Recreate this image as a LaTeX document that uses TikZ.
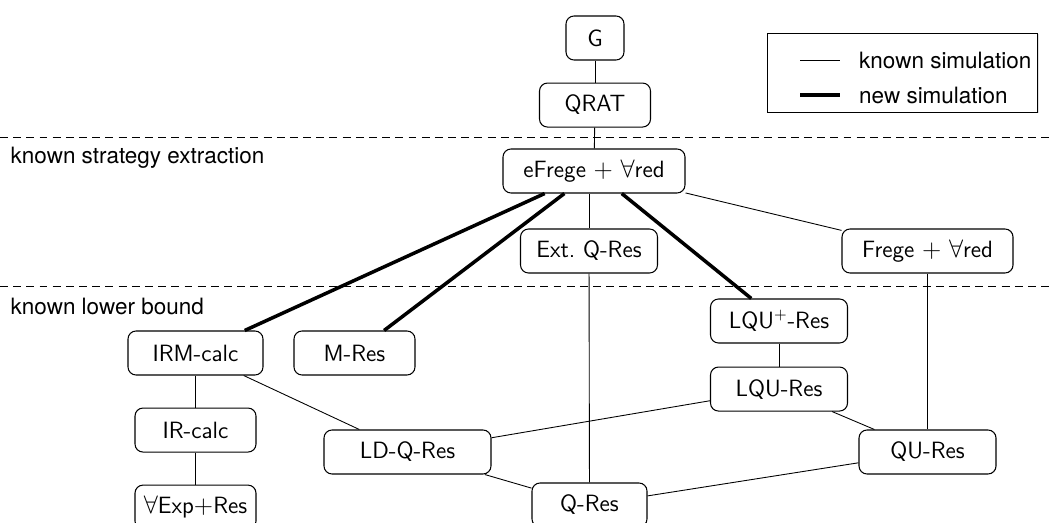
\documentclass[tikz,border=0pt]{standalone}
\usepackage{amsmath}
\usepackage{fontspec}
\newfontfamily\helv{TeX Gyre Heros}
\usetikzlibrary{positioning,calc,shadows}

\begin{document}
\begin{tikzpicture}[
		sys/.style={rectangle, draw, rounded corners=0.16cm, line width=0.6pt, minimum height=0.88cm, inner xsep=3pt, font=\fontsize{13.4}{15}\sffamily},
		knownsim/.style={line width=0.5pt},
		newsim/.style={line width=2pt},
		bound/.style={dash pattern=on 4.5pt off 3pt, line width=0.5pt},
		side/.style={font=\fontsize{12.8}{15}\helv, anchor=west}
	]
		\useasboundingbox (0,0) rectangle (21.08,-10.46);
		% levels
		\draw[bound] (0,-2.74) coordinate (b1) -- (21.08,-2.74) coordinate (b2);
		\draw[bound] (0,-5.72) coordinate (b3) -- (21.08,-5.72) coordinate (b4);
		\node[side] (strat) at (0.09,-3.16) {known strategy extraction};
		\node[side] (lower) at (0.09,-6.12) {known lower bound};
		% systems
		\node at (11.9,-0.76) [sys, minimum width=1.16cm] (g) {G};
		\node[sys, minimum width=2.22cm, below=0.44cm of g] (qrat) {QRAT};
		\node at (11.88,-3.42) [sys, minimum width=3.64cm] (efrege) {eFrege $+$ $\forall$red};
		\node at (11.78,-5.02) [sys, minimum width=2.74cm] (ext) {Ext.\ Q-Res};
		\node at (18.55,-5.02) [sys, minimum width=3.42cm] (frege) {Frege $+$ $\forall$red};
		\node at (15.58,-6.42) [sys, minimum width=2.74cm] (lqup) {LQU$^+$-Res};
		\node[sys, minimum width=2.74cm, below=0.46cm of lqup] (lqu) {LQU-Res};
		\node at (18.55,-9.04) [sys, minimum width=2.74cm] (qu) {QU-Res};
		\node at (11.79,-10.1) [sys, minimum width=2.3cm] (qres) {Q-Res};
		\node at (3.91,-7.06) [sys, minimum width=2.7cm] (irm) {IRM-calc};
		\node at (7.09,-7.06) [sys, minimum width=2.42cm] (mres) {M-Res};
		\node[sys, minimum width=2.42cm, below=0.64cm of irm] (ir) {IR-calc};
		\node[sys, minimum width=2.42cm, below=0.64cm of ir] (exp) {$\forall$Exp$+$Res};
		\node at (8.15,-9.04) [sys, minimum width=3.34cm] (ldq) {LD-Q-Res};
		% known simulations
		\draw[knownsim] (g) -- (qrat);
		\draw[knownsim] (qrat) -- (efrege);
		\draw[knownsim] (ext) -- (ext |- efrege.south);
		\draw[knownsim] (ext) -- (qres);
		\draw[knownsim] (efrege) -- (frege);
		\draw[knownsim] (frege) -- (qu);
		\draw[knownsim] (lqup) -- (lqu);
		\draw[knownsim] (lqu) -- (qu);
		\draw[knownsim] (lqu) -- (ldq);
		\draw[knownsim] (irm) -- (ldq);
		\draw[knownsim] (ldq) -- (qres);
		\draw[knownsim] (qres) -- (qu);
		\draw[knownsim] (irm) -- (ir);
		\draw[knownsim] (ir) -- (exp);
		% new simulations
		\draw[newsim] (efrege) -- (irm);
		\draw[newsim] (efrege) -- (mres);
		\draw[newsim] (efrege) -- (lqup);
		% legend
		\node at (15.34,-0.66) [draw, fill=white, line width=0.5pt, anchor=north west, minimum width=5.4cm, minimum height=1.58cm, drop shadow={opacity=0.25, shadow xshift=0.6pt, shadow yshift=-0.6pt}] (legend) {};
		\coordinate (k1) at (16.0,-1.2);
		\coordinate (k2) at (16.8,-1.2);
		\coordinate (n1) at (16.0,-1.9);
		\coordinate (n2) at (16.8,-1.9);
		\draw[knownsim] (k1) -- (k2);
		\draw[newsim] (n1) -- (n2);
		\node[side, right=0.26cm of k2] (ktext) {known simulation};
		\node[side, right=0.26cm of n2] (ntext) {new simulation};
\end{tikzpicture}
\end{document}
